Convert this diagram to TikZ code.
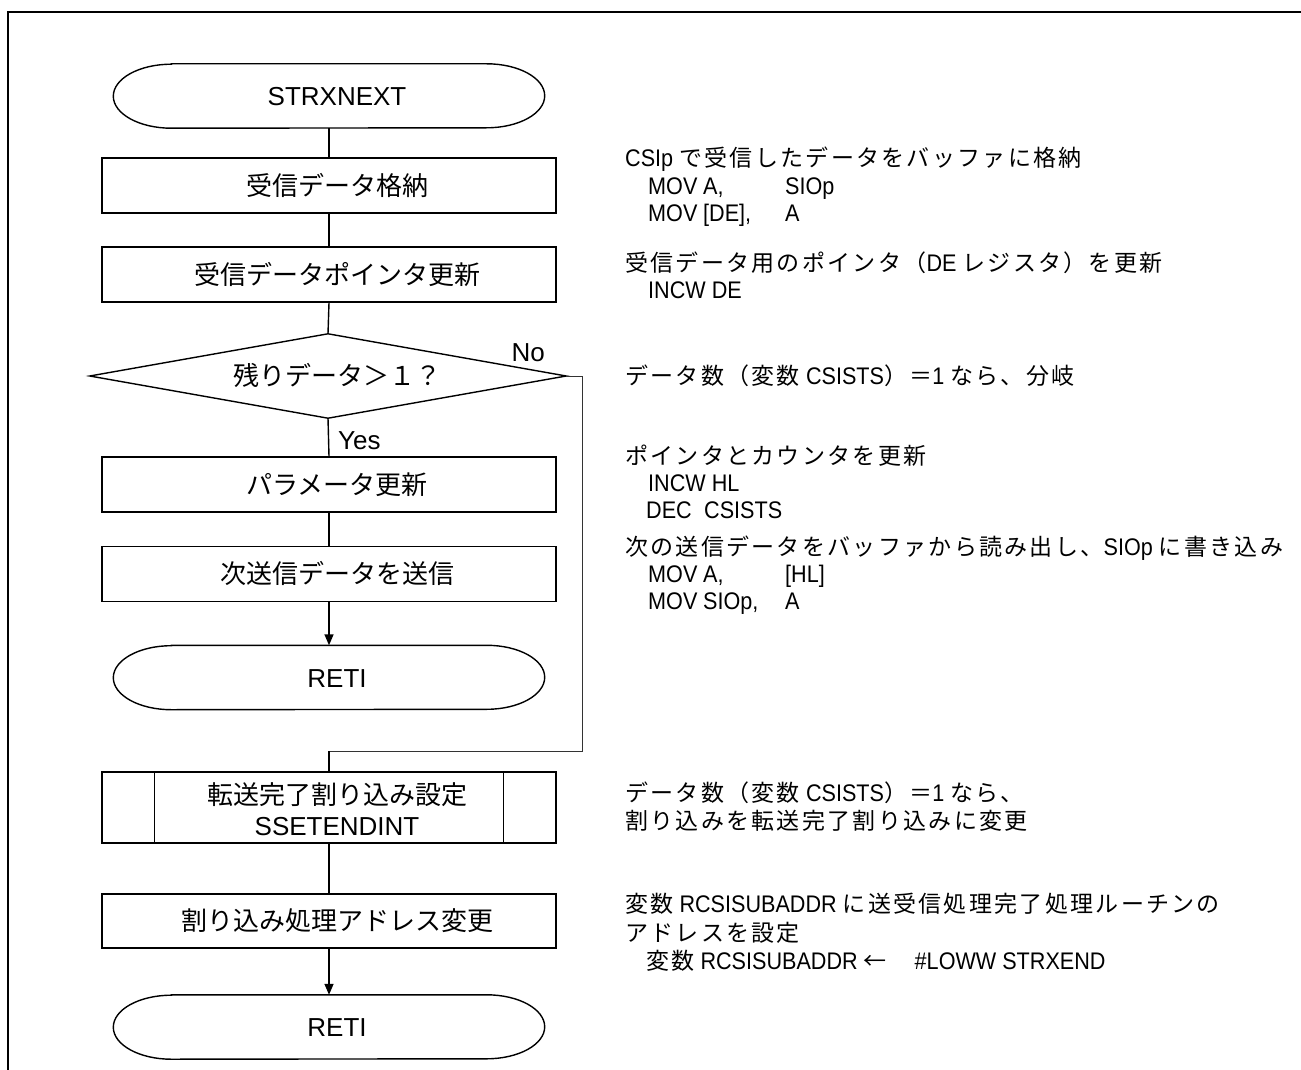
\documentclass[tikz,border=0pt]{standalone}
\usepackage{fontspec}
\setmainfont{Liberation Sans}
\newfontfamily\jpf{Noto Sans CJK JP}
\newfontfamily\notelat[FakeStretch=0.9]{Liberation Sans}
\newfontfamily\notejpf[LetterSpace=10]{Noto Sans CJK JP}
\usetikzlibrary{arrows.meta}
\newcommand\bj[1]{{\jpf #1}}
\newcommand\nj[1]{{\notejpf\fontsize{23}{27}\selectfont #1}}
\newcommand\drawterm[1]{%
  \draw[shapeline] ([xshift=58pt]#1.north west) -- ([xshift=-58pt]#1.north east)
    arc[start angle=90,end angle=-90,x radius=58pt,y radius=32pt]
    -- ([xshift=58pt]#1.south west)
    arc[start angle=270,end angle=90,x radius=58pt,y radius=32pt] -- cycle;}
\tikzset{
  shapeline/.style={line width=1.4pt, line join=miter},
  termnode/.style={minimum width=431pt, minimum height=64pt, inner sep=0pt, draw=none},
  boxnode/.style={shapeline, draw, minimum width=454pt, minimum height=55pt, inner sep=0pt},
  btext/.style={anchor=base, inner sep=0pt, font=\fontsize{26}{30}\selectfont},
  ntext/.style={anchor=base west, inner sep=0pt, font=\notelat\fontsize{24}{28}\selectfont},
  conn/.style={line width=1.4pt},
  arr/.style={line width=1.4pt, -{Triangle[length=11pt,width=9pt]}},
  ret/.style={line width=1pt, black!80},
}
\begin{document}
\begin{tikzpicture}[x=1pt,y=1pt]
\useasboundingbox (0,0) rectangle (1301,-1070);
\draw[line width=2.5pt] (1301,-12) -- (8,-12) -- (8,-1070);

% main column shapes
\node[termnode] (t1) at (329,-96) {};
\drawterm{t1}
\node[btext] (t1t) at (337,-105.5) {STRXNEXT};

\node[boxnode] (b1) at (329,-185.5) {};
\node[btext] (b1t) at (337,-195) {\bj{受信データ格納}};

\node[boxnode] (b2) at (329,-274.5) {};
\node[btext] (b2t) at (337,-284) {\bj{受信データポインタ更新}};

\node[minimum width=476pt, minimum height=84pt, inner sep=0pt] (d) at (328,-376) {};
\draw[shapeline] (d.west) -- (d.north) -- (d.east) -- (d.south) -- cycle;
\node[btext] (dt) at (337,-385.5) {\bj{残りデータ＞１？}};
\node[btext, anchor=base east] (no) at (545,-361) {No};
\node[btext, anchor=base west] (yes) at (338,-449) {Yes};

\node[boxnode] (b3) at (329,-484.5) {};
\node[btext] (b3t) at (337,-494) {\bj{パラメータ更新}};

\node[boxnode] (b4) at (329,-574) {};
\node[btext] (b4t) at (337,-583.5) {\bj{次送信データを送信}};

\node[termnode] (t2) at (329,-677.5) {};
\drawterm{t2}
\node[btext] (t2t) at (337,-687) {RETI};

\node[boxnode, minimum height=71pt] (s) at (329,-807.5) {};
\draw[shapeline] ([xshift=53pt]s.north west) -- ([xshift=53pt]s.south west);
\draw[shapeline] ([xshift=-53pt]s.north east) -- ([xshift=-53pt]s.south east);
\node[btext] (st1) at (337,-804.5) {\bj{転送完了割り込み設定}};
\node[btext] (st2) at (337,-835.5) {SSETENDINT};

\node[boxnode, minimum height=54pt] (b5) at (329,-921) {};
\node[btext] (b5t) at (337,-930.5) {\bj{割り込み処理アドレス変更}};

\node[termnode] (t3) at (329,-1027) {};
\drawterm{t3}
\node[btext] (t3t) at (337,-1036.5) {RETI};

% connectors
\draw[conn] (t1.south) -- (b1.north);
\draw[conn] (b1.south) -- (b2.north);
\draw[conn] (b2.south) -- (d.north);
\draw[conn] (d.south) -- (b3.north);
\draw[conn] (b3.south) -- (b4.north);
\draw[arr] (b4.south) -- (t2.north);
\coordinate (r1) at (582,-376);
\coordinate (r2) at (582,-751);
\coordinate (r3) at (329,-751);
\draw[ret] (d.east) -- (r1) -- (r2) -- (r3);
\draw[conn] (r3) -- (s.north);
\draw[conn] (s.south) -- (b5.north);
\draw[arr] (b5.south) -- (t3.north);

% notes
\node[ntext] (n1a) at (625,-166) {CSIp \nj{で受信したデータをバッファに格納}};
\node[ntext] (n1b) at (648,-194) {\makebox[55pt][l]{MOV}\makebox[82pt][l]{A,}SIOp};
\node[ntext] (n1c) at (648,-221) {\makebox[55pt][l]{MOV}\makebox[82pt][l]{[DE],}A};

\node[ntext] (n2a) at (625,-271) {\nj{受信データ用のポインタ（}DE \nj{レジスタ）を更新}};
\node[ntext] (n2b) at (648,-298) {INCW DE};

\node[ntext] (n3a) at (625,-384) {\nj{データ数（変数} CSISTS\nj{）＝}1 \nj{なら、分岐}};

\node[ntext] (n4a) at (625,-464) {\nj{ポインタとカウンタを更新}};
\node[ntext] (n4b) at (648,-491) {INCW HL};
\node[ntext] (n4c) at (646,-518) {\makebox[58pt][l]{DEC}CSISTS};

\node[ntext] (n5a) at (625,-555) {\nj{次の送信データをバッファから読み出し、}SIOp \nj{に書き込み}};
\node[ntext] (n5b) at (648,-582) {\makebox[55pt][l]{MOV}\makebox[82pt][l]{A,}[HL]};
\node[ntext] (n5c) at (648,-609) {\makebox[55pt][l]{MOV}\makebox[82pt][l]{SIOp,}A};

\node[ntext] (n6a) at (625,-801) {\nj{データ数（変数} CSISTS\nj{）＝}1 \nj{なら、}};
\node[ntext] (n6b) at (625,-829) {\nj{割り込みを転送完了割り込みに変更}};

\node[ntext] (n7a) at (625,-912) {\nj{変数} RCSISUBADDR \nj{に送受信処理完了処理ルーチンの}};
\node[ntext] (n7b) at (625,-941) {\nj{アドレスを設定}};
\node[ntext] (n7c) at (646,-969) {\nj{変数} RCSISUBADDR \nj{←}\hspace{28pt}\#LOWW STRXEND};
\end{tikzpicture}
\end{document}
